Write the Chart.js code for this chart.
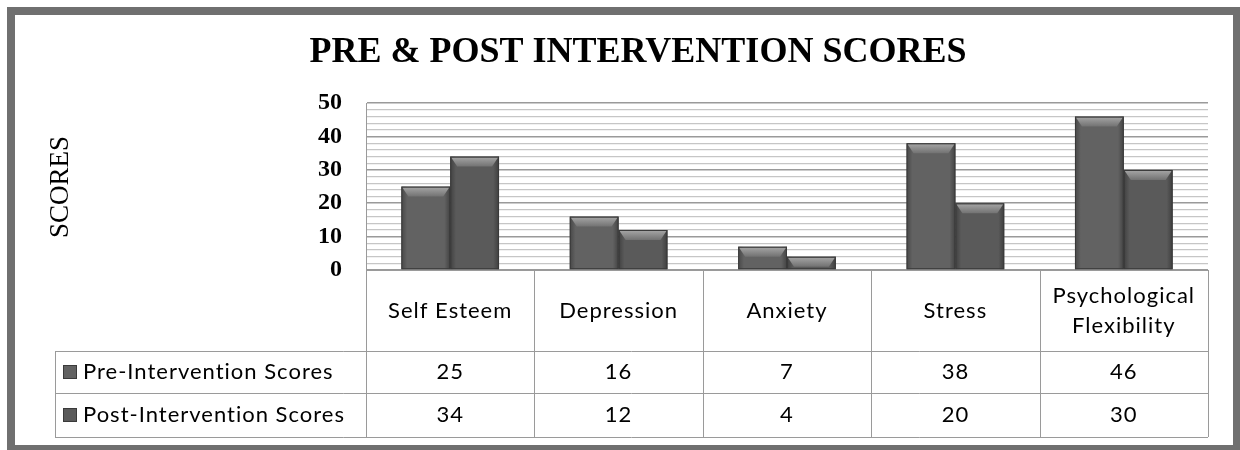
<!DOCTYPE html>
<html>
<head>
<meta charset="utf-8">
<title>Pre & Post Intervention Scores</title>
<script src="https://cdn.jsdelivr.net/npm/chart.js@4.4.1/dist/chart.umd.min.js"></script>
<style>
  html, body { margin: 0; padding: 0; background: #fff; }
  canvas { display: block; }
</style>
</head>
<body>
<canvas id="scores-chart" width="1240" height="450"></canvas>
<script>
// Chart data
const categories = ['Self Esteem', 'Depression', 'Anxiety', 'Stress', ['Psychological', 'Flexibility']];
const seriesNames = ['Pre-Intervention Scores', 'Post-Intervention Scores'];
const preScores = [25, 16, 7, 38, 46];
const postScores = [34, 12, 4, 20, 30];
const yMin = 0;
const yMax = 50;
const yLabelStep = 10;
const yGridStep = 2;

const serif = "'Liberation Serif', 'Times New Roman', serif";
const sans = "Lato, 'Noto Sans', sans-serif";
const barColors = ['#626262', '#5a5a5a'];

// White card with the thick grey frame, plus the rotated axis title
const framePlugin = {
    id: 'frame',
    beforeDraw(chart) {
        const ctx = chart.ctx;
        ctx.save();
        ctx.fillStyle = '#ffffff';
        ctx.fillRect(0, 0, chart.width, chart.height);
        ctx.fillStyle = '#707070';
        ctx.fillRect(7, 7, chart.width - 7, chart.height - 7);
        ctx.fillStyle = '#ffffff';
        ctx.fillRect(15, 15, chart.width - 22, chart.height - 20);

        ctx.translate(61, 187);
        ctx.rotate(-Math.PI / 2);
        ctx.fillStyle = '#000';
        ctx.font = '27px ' + serif;
        ctx.textAlign = 'center';
        ctx.textBaseline = 'middle';
        ctx.fillText('SCORES', 0, 0);
        ctx.restore();
    }
};

// Bevelled top and shaded sides on each bar
const bevelPlugin = {
    id: 'bevel',
    afterDatasetsDraw(chart) {
        const ctx = chart.ctx;
        ctx.save();
        chart.data.datasets.forEach(function (ds, i) {
            chart.getDatasetMeta(i).data.forEach(function (bar) {
                const left = bar.x - bar.width / 2;
                const right = bar.x + bar.width / 2;
                const top = bar.y;
                const bottom = bar.base;
                const h = Math.min(10, bottom - top);

                const side = ctx.createLinearGradient(left, 0, right, 0);
                side.addColorStop(0, 'rgba(0,0,0,0.28)');
                side.addColorStop(0.12, 'rgba(0,0,0,0)');
                side.addColorStop(0.88, 'rgba(0,0,0,0)');
                side.addColorStop(1, 'rgba(0,0,0,0.32)');
                ctx.fillStyle = side;
                ctx.fillRect(left, top, right - left, bottom - top);

                const shine = ctx.createLinearGradient(0, top, 0, top + h);
                shine.addColorStop(0, '#a8a8a8');
                shine.addColorStop(1, '#727272');
                ctx.fillStyle = shine;
                ctx.beginPath();
                ctx.moveTo(left + 1, top + 1);
                ctx.lineTo(right - 1, top + 1);
                ctx.lineTo(right - 7, top + h);
                ctx.lineTo(left + 7, top + h);
                ctx.closePath();
                ctx.fill();

                ctx.strokeStyle = '#3a3a3a';
                ctx.lineWidth = 1;
                ctx.strokeRect(left + 0.5, top + 0.5, right - left - 1, bottom - top - 1);
            });
        });
        ctx.restore();
    }
};

// Data table under the plot: category row, then one row per series
const tablePlugin = {
    id: 'dataTable',
    afterDraw(chart) {
        const ctx = chart.ctx;
        const area = chart.chartArea;
        const xs = chart.scales.x;
        const n = chart.data.labels.length;
        const colW = (xs.right - xs.left) / n;
        const tableLeft = 55;
        const headBottom = area.bottom + 81;
        const rowBottoms = [headBottom + 42, headBottom + 86];

        ctx.save();
        ctx.strokeStyle = '#9a9a9a';
        ctx.lineWidth = 1;
        ctx.beginPath();
        ctx.moveTo(area.left, area.bottom + 0.5);
        ctx.lineTo(xs.right, area.bottom + 0.5);
        [headBottom].concat(rowBottoms).forEach(function (y) {
            ctx.moveTo(tableLeft, y + 0.5);
            ctx.lineTo(xs.right, y + 0.5);
        });
        ctx.moveTo(tableLeft + 0.5, headBottom);
        ctx.lineTo(tableLeft + 0.5, rowBottoms[1]);
        ctx.moveTo(area.left + 0.5, area.top);
        ctx.lineTo(area.left + 0.5, rowBottoms[1]);
        for (let i = 1; i <= n; i++) {
            const x = Math.round(xs.left + i * colW) + 0.5;
            ctx.moveTo(x, area.bottom);
            ctx.lineTo(x, rowBottoms[1]);
        }
        ctx.stroke();

        ctx.fillStyle = '#000';
        ctx.font = '22px ' + sans;
        ctx.letterSpacing = '1px';
        ctx.textAlign = 'center';
        ctx.textBaseline = 'middle';
        const headMid = (area.bottom + headBottom) / 2;
        chart.data.labels.forEach(function (label, i) {
            const cx = xs.getPixelForValue(i);
            const lines = Array.isArray(label) ? label : [label];
            lines.forEach(function (line, k) {
                ctx.fillText(line, cx, headMid + (k - (lines.length - 1) / 2) * 30);
            });
        });

        const rowTops = [headBottom, rowBottoms[0]];
        chart.data.datasets.forEach(function (ds, r) {
            const cy = (rowTops[r] + rowBottoms[r]) / 2;
            ctx.textAlign = 'center';
            ds.data.forEach(function (v, i) {
                ctx.fillText(String(v), xs.getPixelForValue(i), cy);
            });
            ctx.fillStyle = ds.backgroundColor;
            ctx.fillRect(63, cy - 7, 14, 14);
            ctx.strokeStyle = '#3a3a3a';
            ctx.strokeRect(63.5, cy - 6.5, 13, 13);
            ctx.fillStyle = '#000';
            ctx.textAlign = 'left';
            ctx.fillText(ds.label, 83, cy);
        });
        ctx.restore();
    }
};

const ctx = document.getElementById('scores-chart').getContext('2d');
const scoresChart = new Chart(ctx, {
    type: 'bar',
    data: {
        labels: categories,
        datasets: [{
            label: seriesNames[0],
            data: preScores,
            backgroundColor: barColors[0]
        }, {
            label: seriesNames[1],
            data: postScores,
            backgroundColor: barColors[1]
        }]
    },
    options: {
        responsive: false,
        animation: false,
        categoryPercentage: 0.58,
        barPercentage: 1.0,
        layout: {
            padding: { left: 68, right: 32, top: 31, bottom: 180 }
        },
        plugins: {
            legend: { display: false },
            tooltip: { enabled: false },
            title: {
                display: true,
                text: 'PRE & POST INTERVENTION SCORES',
                color: '#000',
                font: { family: serif, size: 36, weight: 'bold' },
                padding: { top: 0, bottom: 29 }
            }
        },
        scales: {
            x: {
                display: false
            },
            y: {
                min: yMin,
                max: yMax,
                afterFit: function (scale) {
                    scale.width = 366 - 68;
                },
                border: { display: true, color: '#9a9a9a' },
                grid: {
                    drawTicks: false,
                    color: function (c) {
                        return c.tick && c.tick.value % yLabelStep === 0 ? '#9a9a9a' : '#c6c6c6';
                    },
                    lineWidth: function (c) {
                        return c.tick && c.tick.value % yLabelStep === 0 ? 1.6 : 1.2;
                    }
                },
                ticks: {
                    stepSize: yGridStep,
                    autoSkip: false,
                    padding: 24,
                    color: '#000',
                    font: { family: serif, size: 24, weight: 'bold' },
                    callback: function (value) {
                        return value % yLabelStep === 0 ? value : '';
                    }
                }
            }
        }
    },
    plugins: [framePlugin, bevelPlugin, tablePlugin]
});
</script>
</body>
</html>
